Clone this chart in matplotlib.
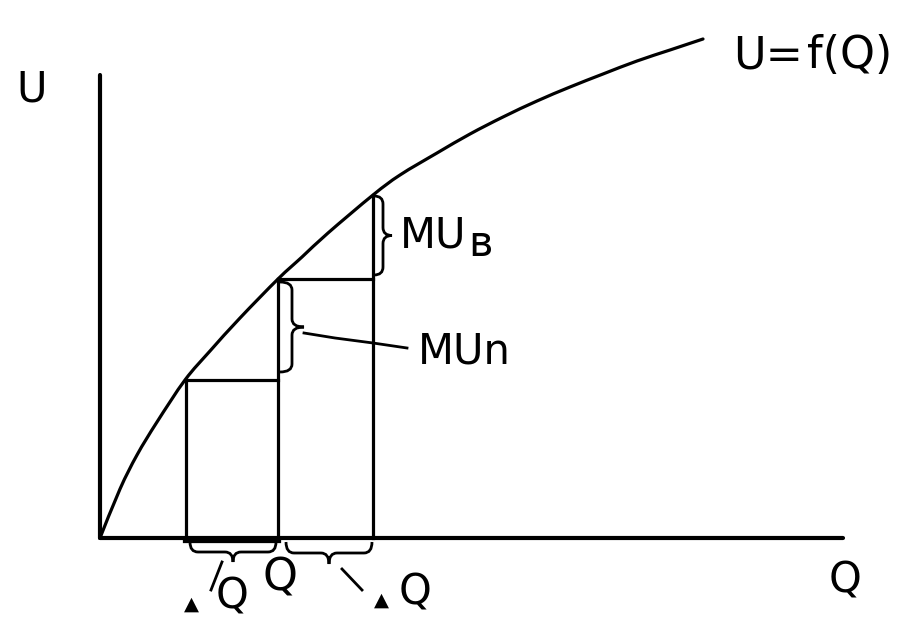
import numpy as np
import matplotlib
matplotlib.use("Agg")
import matplotlib.pyplot as plt
from matplotlib.path import Path
from matplotlib.patches import PathPatch

# ---- data (origin at the axes crossing; units ~ pixels of the reference) ----
curve_q = [0, 20, 37, 57, 85, 110, 140, 178, 202, 228, 273, 300,
           337, 370, 403, 437, 470, 503, 537, 570, 603]
curve_u = [0, 49, 83, 116, 158, 187, 220, 259, 281, 305, 343, 363,
           385, 404, 421, 437, 451, 464, 477, 488, 499]
step_q = [86, 178, 273]        # Q - dQ, Q, Q + dQ
step_u = [158, 259, 343]       # utility at those quantities
axis_q_max = 743
axis_u_max = 463

fig = plt.figure(figsize=(9.11, 6.22), dpi=100)
ax = fig.add_axes([0, 0, 1, 1])
ax.set_xlim(-100, 811)
ax.set_ylim(-84, 538)
ax.axis("off")

lw_axis = 3.0
lw = 2.3
# axes
ax.plot([0, 0], [0, axis_u_max], color="black", lw=lw_axis, solid_capstyle="round")
ax.plot([0, axis_q_max], [0, 0], color="black", lw=lw_axis, solid_capstyle="round")
# thicker segment on Q axis between the first two verticals
ax.plot([step_q[0], step_q[1]], [-1.5, -1.5], color="black", lw=lw_axis + 1.5)


# utility curve: smooth path through the read points (Catmull-Rom -> Bezier)
def smooth_path(xs, ys):
    pts = np.column_stack([xs, ys]).astype(float)
    verts = [tuple(pts[0])]
    codes = [Path.MOVETO]
    n = len(pts)
    for i in range(n - 1):
        p0 = pts[i - 1] if i > 0 else pts[i]
        p1 = pts[i]
        p2 = pts[i + 1]
        p3 = pts[i + 2] if i + 2 < n else pts[i + 1]
        c1 = p1 + (p2 - p0) / 6.0
        c2 = p2 - (p3 - p1) / 6.0
        verts += [tuple(c1), tuple(c2), tuple(p2)]
        codes += [Path.CURVE4] * 3
    return Path(verts, codes)


ax.add_patch(PathPatch(smooth_path(curve_q, curve_u), fill=False, lw=lw,
                       color="black", capstyle="round"))

# steps (rectangles)
for q, u in zip(step_q, step_u):
    ax.plot([q, q], [0, u], color="black", lw=lw)
ax.plot([step_q[0], step_q[1]], [step_u[0], step_u[0]], color="black", lw=lw)
ax.plot([step_q[1], step_q[2]], [step_u[1], step_u[1]], color="black", lw=lw)


def vbrace(x, y0, y1, w, r=8):
    ym = (y0 + y1) / 2
    xm = x + w / 2
    verts = [(x, y0), (xm, y0), (xm, y0 - r), (xm, ym + r), (xm, ym), (x + w, ym),
             (xm, ym), (xm, ym - r), (xm, y1 + r), (xm, y1), (x, y1)]
    codes = [Path.MOVETO, Path.CURVE3, Path.CURVE3, Path.LINETO, Path.CURVE3, Path.CURVE3,
             Path.CURVE3, Path.CURVE3, Path.LINETO, Path.CURVE3, Path.CURVE3]
    ax.add_patch(PathPatch(Path(verts, codes), fill=False, lw=2.0, color="black"))


def hbrace(x0, x1, y, h, r=8):
    xm = (x0 + x1) / 2
    ymid = y - h / 2
    verts = [(x0, y), (x0, ymid), (x0 + r, ymid), (xm - r, ymid), (xm, ymid), (xm, y - h),
             (xm, ymid), (xm + r, ymid), (x1 - r, ymid), (x1, ymid), (x1, y)]
    codes = [Path.MOVETO, Path.CURVE3, Path.CURVE3, Path.LINETO, Path.CURVE3, Path.CURVE3,
             Path.CURVE3, Path.CURVE3, Path.LINETO, Path.CURVE3, Path.CURVE3]
    ax.add_patch(PathPatch(Path(verts, codes), fill=False, lw=2.0, color="black"))


# MU braces
vbrace(step_q[2] + 1, step_u[2] - 1, step_u[1] + 4, 18)
vbrace(step_q[1] + 2, step_u[1] - 3, step_u[0] + 8, 24)
ax.plot([step_q[1] + 26, 235, step_q[2], 307], [205, 200, 195, 190],
        color="black", lw=2.0)

# dQ braces below axis
hbrace(step_q[0] + 4, step_q[1] - 2, -4, 20)
hbrace(step_q[1] + 8, step_q[2] - 1, -4, 22)
ax.plot([122, 111], [-24, -52], color="black", lw=2.0)
ax.plot([242, 262], [-31, -52], color="black", lw=2.0)

# labels
fs = 30
ax.text(-68, 448, "U", fontsize=fs, ha="center", va="center")
ax.text(633, 482, "U=", fontsize=32, ha="left", va="center")
ax.text(707, 482, "f(Q)", fontsize=32, ha="left", va="center")
ax.text(300, 302, "MU", fontsize=fs, ha="left", va="center")
ax.text(368, 294, "ʙ", fontsize=fs, ha="left", va="center")
ax.text(318, 187, "MUn", fontsize=fs, ha="left", va="center")
ax.text(180, -40, "Q", fontsize=32, ha="center", va="center")
ax.text(745, -42, "Q", fontsize=fs, ha="center", va="center")
ax.text(91, -66, "▲", fontsize=14, ha="center", va="center")
ax.text(132, -58, "Q", fontsize=fs, ha="center", va="center")
ax.text(281, -62, "▲", fontsize=14, ha="center", va="center")
ax.text(315, -55, "Q", fontsize=fs, ha="center", va="center")

fig.savefig("out.png", dpi=100)
